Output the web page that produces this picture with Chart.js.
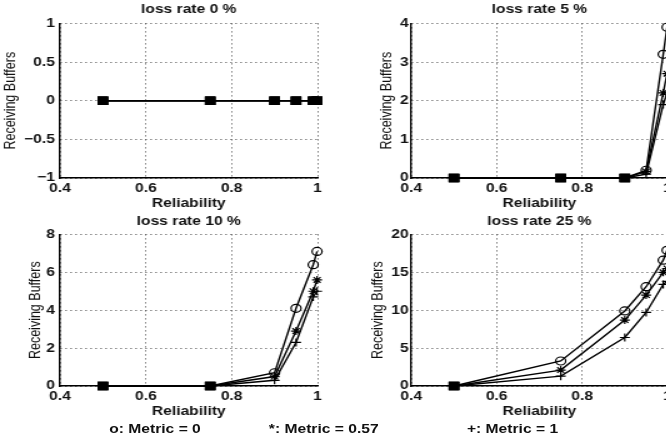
<!DOCTYPE html>
<html>
<head>
<meta charset="utf-8">
<script src="https://cdn.jsdelivr.net/npm/chart.js@4.4.0/dist/chart.umd.min.js"></script>
<style>
  html, body { margin: 0; padding: 0; background: #fff; overflow: hidden; }
  #page { position: relative; width: 666px; height: 440px; overflow: hidden; }
  /* the scanned figure is stretched sideways, so draw narrow and widen */
  #stage { position: absolute; left: 0; top: 0; width: 560px; height: 440px; transform: scaleX(1.25); transform-origin: 0 0; }
  canvas { position: absolute; }
  .note { position: absolute; top: 422px; font: bold 12.5px "Liberation Sans", Arial, sans-serif; line-height: 15px; color: #111; white-space: nowrap; transform: translateX(-50%); }
</style>
</head>
<body>
<div id="page">
  <div id="stage">
    <canvas id="c0" width="272" height="215" style="left:0;top:0"></canvas>
    <canvas id="c5" width="262" height="215" style="left:290px;top:0"></canvas>
    <canvas id="c10" width="272" height="213" style="left:0;top:210px"></canvas>
    <canvas id="c25" width="262" height="213" style="left:290px;top:210px"></canvas>
    <span class="note" style="left:124px">o: Metric = 0</span>
    <span class="note" style="left:259px">*: Metric = 0.57</span>
    <span class="note" style="left:410px">+: Metric = 1</span>
  </div>
</div>
<script>
const reliability = [0.5, 0.75, 0.9, 0.95, 0.99, 0.999];

// loss rate 0 %
const loss0Metric0 = [0, 0, 0, 0, 0, 0];
const loss0Metric057 = [0, 0, 0, 0, 0, 0];
const loss0Metric1 = [0, 0, 0, 0, 0, 0];
// loss rate 5 %
const loss5Metric0 = [0, 0, 0, 0.2, 3.2, 3.9];
const loss5Metric057 = [0, 0, 0, 0.17, 2.2, 2.7];
const loss5Metric1 = [0, 0, 0, 0.1, 1.9, 2.2];
// loss rate 10 %
const loss10Metric0 = [0, 0, 0.7, 4.1, 6.4, 7.1];
const loss10Metric057 = [0, 0, 0.5, 2.9, 5.0, 5.6];
const loss10Metric1 = [0, 0, 0.3, 2.3, 4.7, 5.0];
// loss rate 25 %
const loss25Metric0 = [0, 3.3, 9.9, 13.1, 16.6, 17.9];
const loss25Metric057 = [0, 2.1, 8.7, 12.0, 15.0, 15.5];
const loss25Metric1 = [0, 1.3, 6.4, 9.7, 13.4, 13.8];

const xTicks = [0.4, 0.6, 0.8, 1];

Chart.defaults.font.family = '"Liberation Sans", Arial, sans-serif';
Chart.defaults.font.size = 12.5;
Chart.defaults.font.weight = 'bold';
Chart.defaults.color = '#111';

function series(values, style) {
  return {
    data: values.map((v, i) => ({ x: reliability[i], y: v })),
    borderColor: '#000',
    borderWidth: 1.4,
    tension: 0,
    clip: false,
    pointStyle: ctx => (ctx.raw && ctx.raw.y === 0 ? 'rect' : style),
    pointRadius: ctx => (ctx.raw && ctx.raw.y === 0 ? 5.2 : 4),
    pointBorderColor: '#000',
    pointBorderWidth: 1.2,
    pointBackgroundColor: ctx => (ctx.raw && ctx.raw.y === 0 ? '#000' : 'rgba(0,0,0,0)')
  };
}

function makeChart(id, title, m0, m057, m1, yMin, yMax, yStep, box) {
  new Chart(document.getElementById(id), {
    type: 'line',
    data: { datasets: [series(m0, 'circle'), series(m057, 'star'), series(m1, 'cross')] },
    options: {
      responsive: false,
      animation: false,
      events: [],
      layout: { padding: { left: 0, right: box.padRight, top: 0, bottom: 0 } },
      plugins: {
        legend: { display: false },
        tooltip: { enabled: false },
        title: {
          display: true, text: title, fullSize: false, color: '#111',
          font: { size: 12.5, weight: 'bold' },
          padding: { top: box.titleTop, bottom: box.titleBottom }
        }
      },
      scales: {
        x: {
          type: 'linear', min: 0.4, max: 1,
          afterBuildTicks: s => { s.ticks = xTicks.map(v => ({ value: v })); },
          afterFit: s => { s.height = 37; },
          ticks: { padding: 3.5, maxRotation: 0, autoSkip: false, callback: v => String(+v.toFixed(2)) },
          grid: { color: '#444', lineWidth: 1, drawTicks: false },
          border: { display: true, color: '#000', width: 1.4, dash: [1, 3] },
          title: { display: true, text: 'Reliability', padding: { top: 0, bottom: 4 } }
        },
        y: {
          type: 'linear', min: yMin, max: yMax,
          afterFit: s => { s.width = box.yWidth; },
          ticks: { stepSize: yStep, padding: box.tickPad, callback: v => String(v).replace('-', '\u2212') },
          grid: { color: '#444', lineWidth: 1, drawTicks: false },
          border: { display: true, color: '#000', width: 1.4, dash: [1, 3] },
          title: { display: true, text: 'Receiving Buffers', font: { size: 12.5, weight: 'normal' }, padding: { top: box.yTitleTop, bottom: 0 } }
        }
      }
    }
  });
}

makeChart('c0', 'loss rate 0 %', loss0Metric0, loss0Metric057, loss0Metric1, -1, 1, 0.5,
  { padRight: 18, titleTop: 2, titleBottom: 6.4, yWidth: 48, tickPad: 4, yTitleTop: 1.2 });
makeChart('c5', 'loss rate 5 %', loss5Metric0, loss5Metric057, loss5Metric1, 0, 4, 1,
  { padRight: 18, titleTop: 2, titleBottom: 6.4, yWidth: 39, tickPad: 2, yTitleTop: 11.6 });
makeChart('c10', 'loss rate 10 %', loss10Metric0, loss10Metric057, loss10Metric1, 0, 8, 2,
  { padRight: 18, titleTop: 3.7, titleBottom: 5.7, yWidth: 48, tickPad: 4, yTitleTop: 21.2 });
makeChart('c25', 'loss rate 25 %', loss25Metric0, loss25Metric057, loss25Metric1, 0, 20, 5,
  { padRight: 18, titleTop: 3.7, titleBottom: 5.7, yWidth: 39, tickPad: 2, yTitleTop: 5.1 });
</script>
</body>
</html>
